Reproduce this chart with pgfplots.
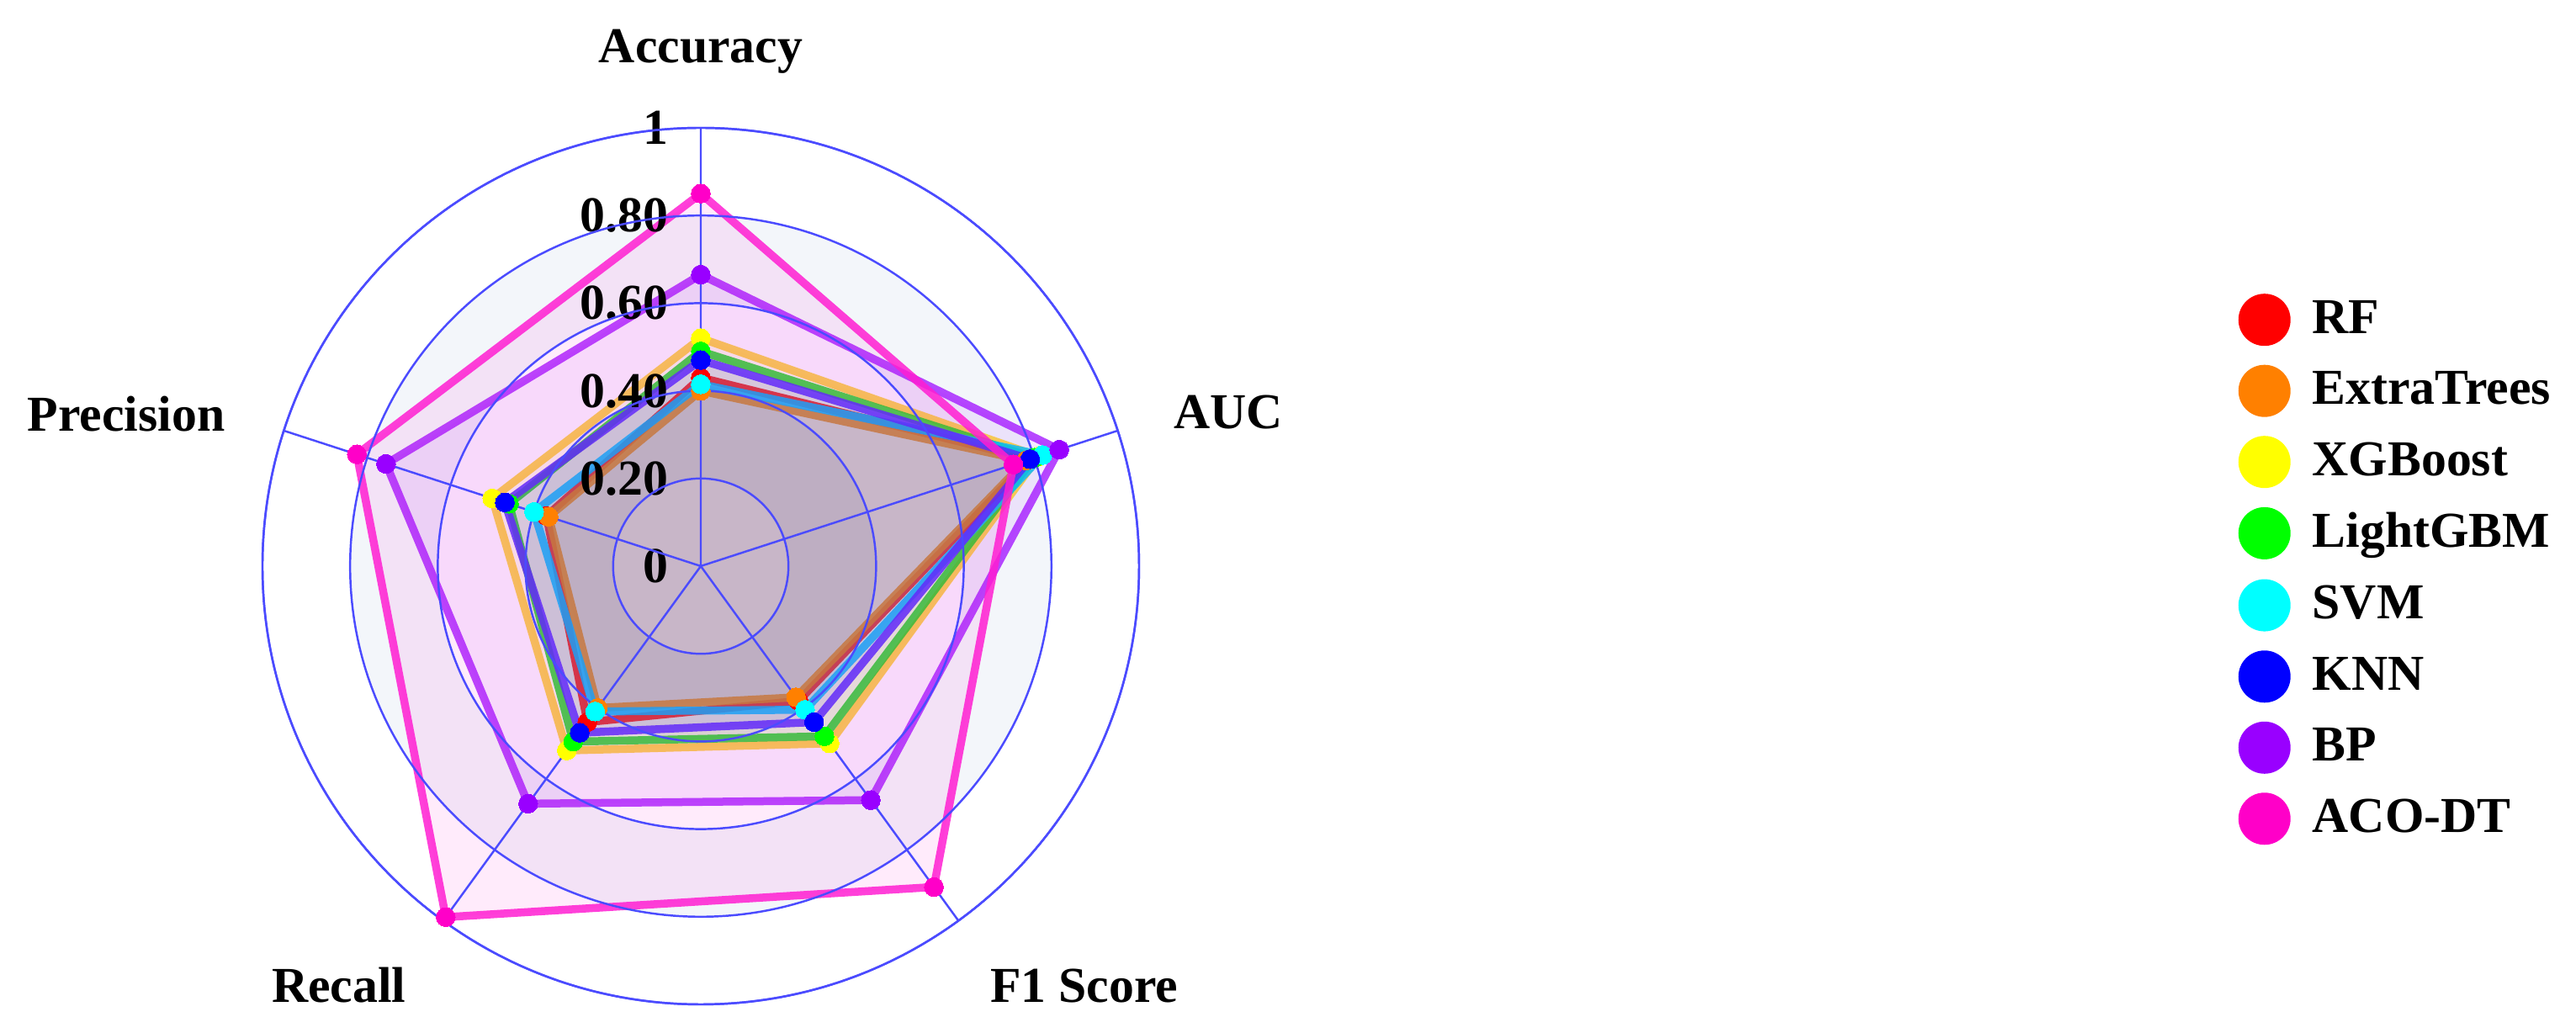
\documentclass[border=0pt]{standalone}
\usepackage{pgfplots}
\pgfplotsset{compat=1.18}
\usepackage{pgfplotstable}
\usepgfplotslibrary{polar}
\usepackage{fontspec}
\setmainfont{Liberation Serif}

\definecolor{gridblue}{RGB}{75,75,255}
\definecolor{band}{RGB}{243,246,250}
\definecolor{cRF}{RGB}{255,0,0}
\definecolor{cET}{RGB}{255,128,0}
\definecolor{cXGB}{RGB}{255,255,0}
\definecolor{lXGB}{RGB}{255,214,40}
\definecolor{cLGBM}{RGB}{0,255,0}
\definecolor{lLGBM}{RGB}{30,220,30}
\definecolor{cSVM}{RGB}{0,255,255}
\definecolor{lSVM}{RGB}{0,205,250}
\definecolor{cKNN}{RGB}{0,0,255}
\definecolor{lKNN}{RGB}{80,50,255}
\definecolor{cBP}{RGB}{153,0,255}
\definecolor{lBP}{RGB}{170,40,255}
\definecolor{cACO}{RGB}{255,0,200}
\definecolor{lACO}{RGB}{255,30,210}

% angle of each spoke: Accuracy 90, AUC 18, F1 Score -54, Recall -126, Precision -198
\pgfplotstableread{
angle  RF    ET     XGB   LGBM   SVM    KNN   BP     ACO
90     0.43  0.40   0.52  0.49   0.415  0.47  0.665  0.85
18     0.79  0.78   0.81  0.80   0.82   0.79  0.86   0.75
-54    0.38  0.37   0.50  0.48   0.405  0.44  0.66   0.905
-126   0.44  0.40   0.52  0.495  0.41   0.47  0.67   0.99
-198   0.37  0.365  0.50  0.46   0.40   0.47  0.755  0.825
-270   0.43  0.40   0.52  0.49   0.415  0.47  0.665  0.85
}\radar

\tikzset{lab/.style={font=\fontsize{17}{20}\selectfont\bfseries, inner sep=0pt}}
\pgfplotsset{
  series/.style 2 args={draw=#2, draw opacity=0.85, fill=#1, fill opacity=0.08,
    line width=0.095cm, line join=round, mark=*, mark size=3.2pt,
    mark options={draw=#1, line width=0pt, fill=#1, fill opacity=1, draw opacity=1},
    legend image code/.code={%
      \path[draw=none,fill=none] (0cm,-0.12cm) rectangle (0.62cm,0.50cm);
      \path[overlay, draw=none, fill=#1, fill opacity=1] (0.31cm,-0.01cm) circle (0.31cm);}},
}

\begin{document}
\begin{tikzpicture}
\path[use as bounding box] (-8.33,-5.55) rectangle (22.29,6.73);
\fill[band,even odd rule] (0,0) circle (4.168) (0,0) circle (3.126);
\fill[band,even odd rule] (0,0) circle (2.084) (0,0) circle (1.042);
\begin{polaraxis}[
  at={(0,0)}, anchor=center,
  width=10.42cm, height=10.42cm, scale only axis,
  ymin=0, ymax=1,
  xtick={18,90,162,234,306}, ytick={0.2,0.4,0.6,0.8,1},
  xticklabels={}, yticklabels={},
  major tick length=0pt,
  grid=major,
  major grid style={draw=gridblue, line width=0.7pt},
  x axis line style={draw=gridblue, line width=0.7pt},
  y axis line style={draw=none},
  axis on top, clip=false,
  legend style={at={(2.2534,0.5106)}, anchor=west, draw=none, fill=none,
    inner sep=0pt, row sep=0.123cm, column sep=0.26cm,
    font=\fontsize{17}{20}\selectfont\bfseries, nodes={inner sep=0pt}},
  legend cell align=left,
]
\addplot[series={cRF}{cRF}]    table[x=angle,y=RF]   {\radar};
\addplot[series={cET}{cET}]    table[x=angle,y=ET]   {\radar};
\addplot[series={cXGB}{lXGB}]  table[x=angle,y=XGB]  {\radar};
\addplot[series={cLGBM}{lLGBM}] table[x=angle,y=LGBM] {\radar};
\addplot[series={cSVM}{lSVM}]  table[x=angle,y=SVM]  {\radar};
\addplot[series={cKNN}{lKNN}]  table[x=angle,y=KNN]  {\radar};
\addplot[series={cBP}{lBP}]    table[x=angle,y=BP]   {\radar};
\addplot[series={cACO}{lACO}]  table[x=angle,y=ACO]  {\radar};
\legend{RF,ExtraTrees,XGBoost,LightGBM,SVM,KNN,BP,ACO-DT}

\node[lab] at (axis cs:90,1.175) {Accuracy};
\node[lab] at (axis cs:16.3,1.254) {AUC};
\node[lab] at (axis cs:165.2,1.356) {Precision};
\node[lab] at (axis cs:229.2,1.264) {Recall};
\node[lab] at (axis cs:312.4,1.297) {F1 Score};

\node[lab,anchor=east,xshift=-0.38cm] at (axis cs:90,1) {1};
\node[lab,anchor=east,xshift=-0.38cm] at (axis cs:90,0.8) {0.80};
\node[lab,anchor=east,xshift=-0.38cm] at (axis cs:90,0.6) {0.60};
\node[lab,anchor=east,xshift=-0.38cm] at (axis cs:90,0.4) {0.40};
\node[lab,anchor=east,xshift=-0.38cm] at (axis cs:90,0.2) {0.20};
\node[lab,anchor=east,xshift=-0.38cm] at (axis cs:90,0) {0};
\end{polaraxis}
\end{tikzpicture}
\end{document}
